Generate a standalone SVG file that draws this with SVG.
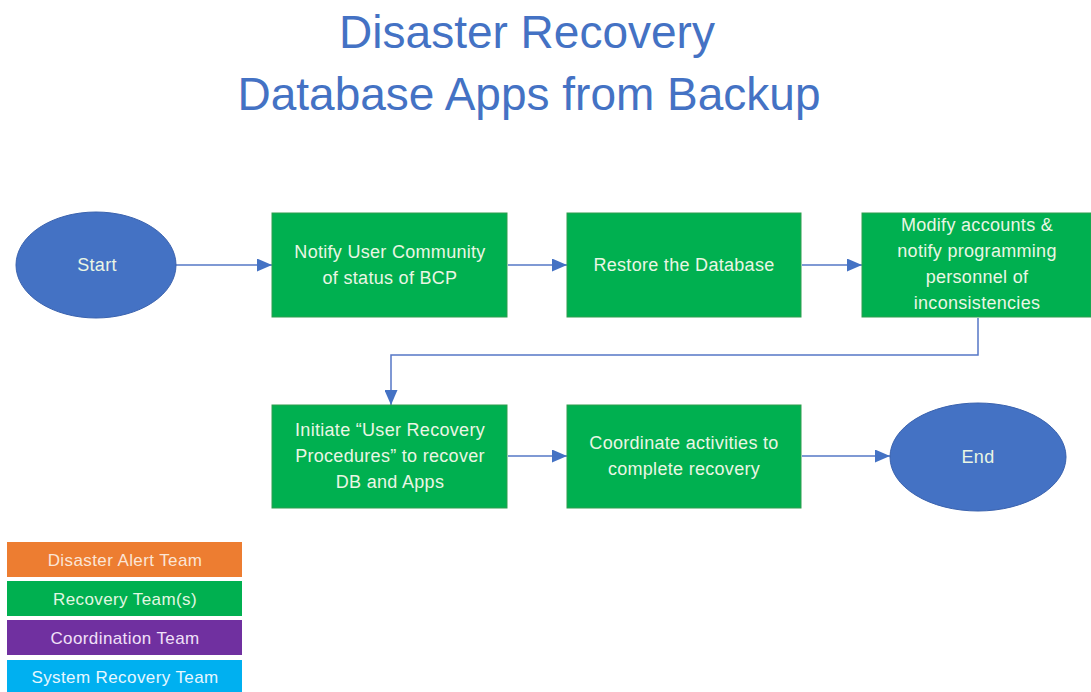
<svg xmlns="http://www.w3.org/2000/svg" width="1091" height="692" viewBox="0 0 1091 692">
<style>
.title{font-family:"Liberation Sans",Arial,sans-serif;font-size:46px;fill:#4472C4;text-anchor:middle}
.box{fill:#00B050;stroke:#2E9E4E;stroke-width:1}
.ell{fill:#4472C4;stroke:#3A62AE;stroke-width:1}
.t{font-family:"Liberation Sans",Arial,sans-serif;font-size:18px;letter-spacing:0.3px;fill:#EAF6E4;text-anchor:middle;dominant-baseline:central}
.lt{font-family:"Liberation Sans",Arial,sans-serif;font-size:17px;letter-spacing:0.4px;text-anchor:middle;dominant-baseline:central}
.c{fill:none;stroke:#5577C6;stroke-width:1.5}
</style>
<defs>
<marker id="ah" viewBox="0 0 15 13" refX="15" refY="6.5" markerWidth="15" markerHeight="13" markerUnits="userSpaceOnUse" orient="auto">
<path d="M0,0 L15,6.5 L0,13 z" fill="#4472C4"/>
</marker>
</defs>
<rect width="1091" height="692" fill="#ffffff"/>
<g id="title">
<text class="title" x="527" y="48">Disaster Recovery</text>
<text class="title" x="529" y="110">Database Apps from Backup</text>
</g>
<g id="connectors">
<line class="c" x1="176" y1="265" x2="272" y2="265" marker-end="url(#ah)"/>
<line class="c" x1="508" y1="265" x2="567" y2="265" marker-end="url(#ah)"/>
<line class="c" x1="802" y1="265" x2="862" y2="265" marker-end="url(#ah)"/>
<polyline class="c" points="978,318 978,355 391,355 391,405" marker-end="url(#ah)"/>
<line class="c" x1="508" y1="456" x2="567" y2="456" marker-end="url(#ah)"/>
<line class="c" x1="802" y1="456" x2="890" y2="456" marker-end="url(#ah)"/>
</g>
<g id="start">
<ellipse class="ell" cx="96" cy="265" rx="80" ry="53"/>
<text class="t" x="97" y="265">Start</text>
</g>
<g id="notify">
<rect class="box" x="272" y="213" width="235" height="104"/>
<text class="t" x="390" y="252">Notify User Community</text>
<text class="t" x="390" y="278">of status of BCP</text>
</g>
<g id="restore">
<rect class="box" x="567" y="213" width="234" height="104"/>
<text class="t" x="684" y="265">Restore the Database</text>
</g>
<g id="modify">
<rect class="box" x="862" y="213" width="229" height="104"/>
<text class="t" x="977" y="225">Modify accounts &amp;</text>
<text class="t" x="977" y="251">notify programming</text>
<text class="t" x="977" y="277">personnel of</text>
<text class="t" x="977" y="303">inconsistencies</text>
</g>
<g id="initiate">
<rect class="box" x="272" y="405" width="235" height="103"/>
<text class="t" x="390" y="430">Initiate “User Recovery</text>
<text class="t" x="390" y="456">Procedures” to recover</text>
<text class="t" x="390" y="482">DB and Apps</text>
</g>
<g id="coordinate">
<rect class="box" x="567" y="405" width="234" height="103"/>
<text class="t" x="684" y="443">Coordinate activities to</text>
<text class="t" x="684" y="469">complete recovery</text>
</g>
<g id="end">
<ellipse class="ell" cx="978" cy="457" rx="88" ry="54"/>
<text class="t" x="978" y="457">End</text>
</g>
<g id="legend">
<rect x="7" y="542" width="235" height="35" fill="#ED7D31"/>
<text class="lt" x="125" y="560" fill="#FBE5D6">Disaster Alert Team</text>
<rect x="7" y="581" width="235" height="35" fill="#00B050"/>
<text class="lt" x="125" y="599" fill="#E2F7E2">Recovery Team(s)</text>
<rect x="7" y="620" width="235" height="35" fill="#7030A0"/>
<text class="lt" x="125" y="638" fill="#F0E0F8">Coordination Team</text>
<rect x="7" y="660" width="235" height="32" fill="#00B0F0"/>
<text class="lt" x="125" y="677" fill="#E6F7FF">System Recovery Team</text>
</g>
</svg>
